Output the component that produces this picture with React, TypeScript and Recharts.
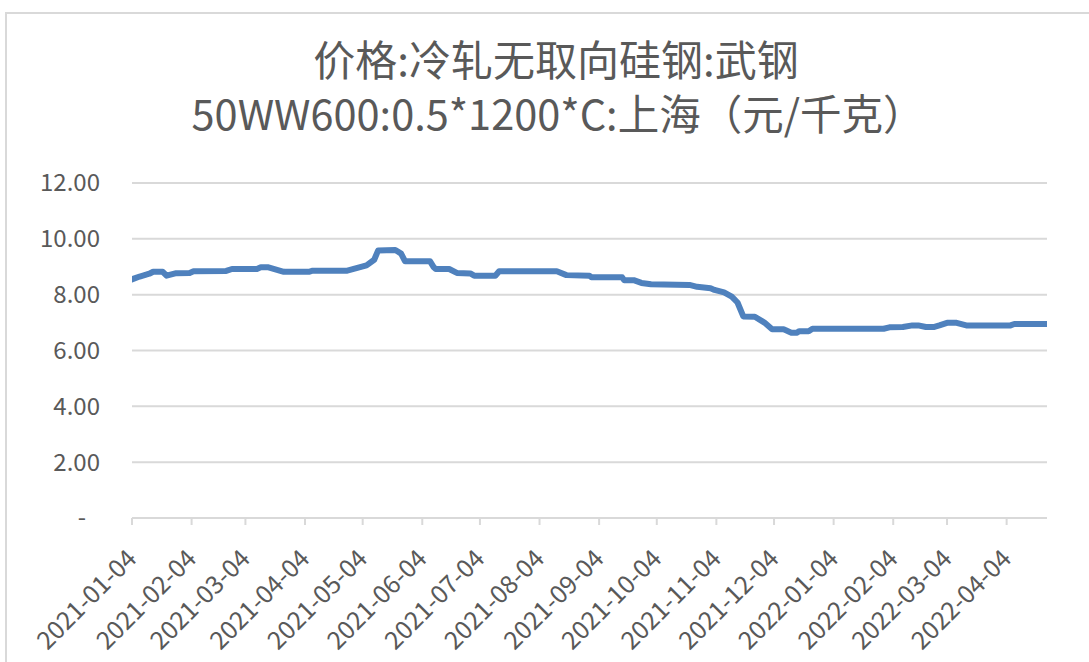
import React from 'react';
import { LineChart, Line, XAxis, YAxis, CartesianGrid } from 'recharts';

const dates: string[] = [
  '2021-01-04', '2021-01-08', '2021-01-13', '2021-01-15', '2021-01-20', '2021-01-22', '2021-01-27',
  '2021-02-03', '2021-02-05', '2021-02-22', '2021-02-25', '2021-03-10', '2021-03-12', '2021-03-16',
  '2021-03-24', '2021-04-06', '2021-04-08', '2021-04-26', '2021-05-06', '2021-05-10', '2021-05-12',
  '2021-05-21', '2021-05-24', '2021-05-26', '2021-06-08', '2021-06-10', '2021-06-11', '2021-06-18',
  '2021-06-22', '2021-06-29', '2021-07-01', '2021-07-12', '2021-07-14', '2021-08-13', '2021-08-18',
  '2021-08-30', '2021-08-31', '2021-09-16', '2021-09-17', '2021-09-22', '2021-09-26', '2021-10-01',
  '2021-10-21', '2021-10-25', '2021-11-01', '2021-11-03', '2021-11-08', '2021-11-12', '2021-11-15',
  '2021-11-18', '2021-11-24', '2021-11-29', '2021-12-03', '2021-12-09', '2021-12-13', '2021-12-16',
  '2021-12-17', '2021-12-22', '2021-12-24', '2022-01-30', '2022-02-02', '2022-02-09', '2022-02-14',
  '2022-02-17', '2022-02-21', '2022-02-25', '2022-02-28', '2022-03-04', '2022-03-09', '2022-03-14',
  '2022-04-06', '2022-04-08', '2022-04-25',
];

const prices: number[] = [
  8.55, 8.65, 8.75, 8.82, 8.82, 8.68, 8.77,
  8.78, 8.84, 8.85, 8.92, 8.92, 8.98, 8.98,
  8.82, 8.82, 8.86, 8.86, 9.05, 9.25, 9.58,
  9.6, 9.47, 9.2, 9.2, 8.98, 8.92, 8.92,
  8.78, 8.76, 8.68, 8.68, 8.84, 8.84, 8.7,
  8.68, 8.62, 8.62, 8.52, 8.52, 8.42, 8.37,
  8.35, 8.28, 8.23, 8.17, 8.08, 7.93, 7.72,
  7.22, 7.21, 7.0, 6.76, 6.76, 6.64, 6.64,
  6.69, 6.69, 6.78, 6.78, 6.83, 6.84, 6.9,
  6.9, 6.84, 6.84, 6.9, 6.99, 6.99, 6.9,
  6.9, 6.95, 6.95,
];

const xTickLabels: string[] = [
  '2021-01-04', '2021-02-04', '2021-03-04', '2021-04-04', '2021-05-04', '2021-06-04',
  '2021-07-04', '2021-08-04', '2021-09-04', '2021-10-04', '2021-11-04', '2021-12-04',
  '2022-01-04', '2022-02-04', '2022-03-04', '2022-04-04',
];

const yTicks: number[] = [0, 2, 4, 6, 8, 10, 12];

const titleLine1 = '价格:冷轧无取向硅钢:武钢';
const titleLine2 = '50WW600:0.5*1200*C:上海（元/千克）';

const DAY = 86400000;
const BASE = Date.UTC(2021, 0, 4);
const toDay = (s: string) => {
  const [y, m, d] = s.split('-').map(Number);
  return Math.round((Date.UTC(y, m - 1, d) - BASE) / DAY);
};
const fromDay = (n: number) => {
  const dt = new Date(BASE + n * DAY);
  const mm = String(dt.getUTCMonth() + 1).padStart(2, '0');
  const dd = String(dt.getUTCDate()).padStart(2, '0');
  return `${dt.getUTCFullYear()}-${mm}-${dd}`;
};

const data = dates.map((d, i) => ({ t: toDay(d), v: prices[i] }));
const xTicks = xTickLabels.map(toDay);
const xDomain = [toDay(dates[0]), toDay(dates[dates.length - 1])];

const FONT = '"Noto Sans CJK SC", "Noto Sans", sans-serif';
const TEXT = '#595959';

const XTick = (props: any) => {
  const { x, y, payload } = props;
  return (
    <text
      x={x}
      y={y}
      transform={`rotate(-45 ${x} ${y})`}
      textAnchor="end"
      dy="0.35em"
      fill={TEXT}
      fontSize={25}
      fontFamily={FONT}
    >
      {fromDay(payload.value)}
    </text>
  );
};

const YTick = (props: any) => {
  const { x, y, payload } = props;
  const v = payload.value;
  return (
    <text
      x={v === 0 ? x - 14 : x}
      y={y}
      textAnchor="end"
      dy="0.35em"
      fill={TEXT}
      fontSize={24}
      fontFamily={FONT}
    >
      {v === 0 ? '-' : v.toFixed(2)}
    </text>
  );
};

export default function App() {
  return (
    <div style={{ position: 'absolute', left: 0, top: 0, width: 1089, height: 662, overflow: 'hidden', background: '#fff' }}>
      <div
        style={{
          position: 'absolute',
          left: 5,
          top: 12,
          width: 1200,
          height: 800,
          border: '2px solid #d9d9d9',
          boxSizing: 'border-box',
        }}
      />
      <svg
        width={1089}
        height={662}
        style={{ position: 'absolute', left: 0, top: 0 }}
      >
        <text x={556} y={76} textAnchor="middle" fontFamily={FONT} fontSize={42} fill={TEXT}>
          {titleLine1}
        </text>
        <text x={558} y={130} textAnchor="middle" fontFamily={FONT} fontSize={41.5} fill={TEXT}>
          {titleLine2}
        </text>
      </svg>
      <div style={{ position: 'absolute', left: 0, top: 0 }}>
        <LineChart
          width={1089}
          height={662}
          data={data}
          margin={{ top: 183, right: 42, bottom: 4, left: 0 }}
        >
          <CartesianGrid vertical={false} stroke="#d9d9d9" strokeWidth={2} />
          <XAxis
            dataKey="t"
            type="number"
            domain={xDomain}
            ticks={xTicks}
            interval={0}
            allowDataOverflow
            stroke="#d9d9d9"
            strokeWidth={2}
            tickSize={7}
            tickMargin={29}
            tick={<XTick />}
            height={140}
          />
          <YAxis
            domain={[0, 12]}
            ticks={yTicks}
            interval={0}
            axisLine={false}
            tickLine={false}
            tickSize={0}
            tickMargin={32}
            width={132}
            tick={<YTick />}
          />
          <Line
            type="linear"
            dataKey="v"
            stroke="#4f81bd"
            strokeWidth={6}
            dot={false}
            isAnimationActive={false}
            strokeLinejoin="round"
            strokeLinecap="round"
          />
        </LineChart>
      </div>
    </div>
  );
}
